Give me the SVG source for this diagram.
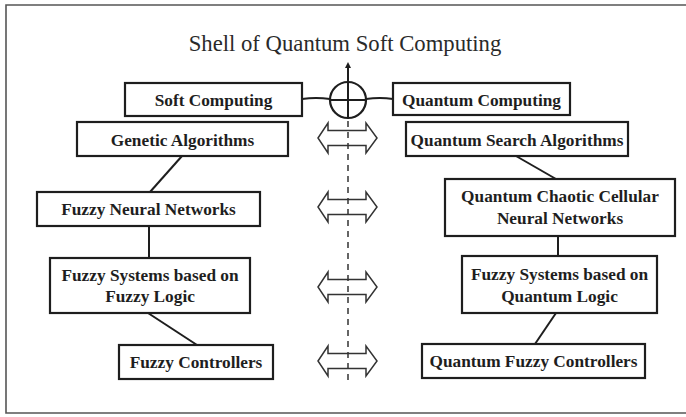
<svg xmlns="http://www.w3.org/2000/svg" width="686" height="417" viewBox="0 0 686 417">
<style>
.box{fill:#fff;stroke:#1e1e1e;stroke-width:2.2}
.lbl{font-family:"Liberation Serif","Times New Roman",serif;font-weight:bold;font-size:17.3px;fill:#1e1e1e;text-anchor:middle}
.ttl{font-family:"Liberation Serif","Times New Roman",serif;font-size:22.7px;fill:#2a2a2a;text-anchor:middle}
.ln{stroke:#1e1e1e;stroke-width:2;fill:none}
.dash{stroke:#333;stroke-width:1.5;stroke-dasharray:6,5;fill:none}
.dbl{fill:none;stroke:#333;stroke-width:1.5;stroke-linejoin:miter}
.frame{stroke:#555;stroke-width:1.6;fill:none}
</style>
<defs>
<marker id="tip" viewBox="0 0 6 6" refX="3" refY="3" markerWidth="3" markerHeight="3" orient="auto">
<path d="M0,0 L6,3 L0,6 Z" fill="#1e1e1e"/>
</marker>
<path id="darrow" d="M-30,0 L-20,-15 L-20,-7.5 L18,-7.5 L18,-15 L29,0 L18,15 L18,7.5 L-20,7.5 L-20,15 Z"/>
</defs>
<rect width="686" height="417" fill="#fff"/>
<path class="frame" d="M686,5 L6,5 L6,413 L686,413"/>
<text class="ttl" x="345" y="51">Shell of Quantum Soft Computing</text>

<g id="connectors">
<path class="ln" d="M302,99 Q316,97 330,99"/>
<path class="ln" d="M366,99 Q380,97 393,99"/>
<line class="ln" x1="348" y1="118" x2="348" y2="65" marker-end="url(#tip)"/>
<line class="dash" x1="348" y1="121" x2="348" y2="380"/>
<line class="ln" x1="182" y1="156" x2="150" y2="192"/>
<line class="ln" x1="149" y1="226" x2="149" y2="258"/>
<line class="ln" x1="148" y1="313" x2="197" y2="345"/>
<line class="ln" x1="516" y1="156" x2="556" y2="179"/>
<line class="ln" x1="558" y1="236" x2="558" y2="256"/>
<line class="ln" x1="556" y1="313" x2="535" y2="344"/>
<use href="#darrow" class="dbl" transform="translate(348,138)"/>
<use href="#darrow" class="dbl" transform="translate(348,207)"/>
<use href="#darrow" class="dbl" transform="translate(348,287)"/>
<use href="#darrow" class="dbl" transform="translate(348,361)"/>
</g>

<g id="oplus">
<circle cx="348" cy="100" r="18" fill="none" stroke="#1e1e1e" stroke-width="2.2"/>
<line class="ln" x1="330" y1="100" x2="366" y2="100"/>
</g>

<g id="soft-computing">
<rect class="box" x="125" y="83" width="177" height="33"/>
<text class="lbl" x="213.5" y="106">Soft Computing</text>
</g>
<g id="quantum-computing">
<rect class="box" x="393" y="83" width="177" height="32"/>
<text class="lbl" x="481.5" y="106">Quantum Computing</text>
</g>
<g id="genetic-algorithms">
<rect class="box" x="77" y="122" width="211" height="34"/>
<text class="lbl" x="182.5" y="146">Genetic Algorithms</text>
</g>
<g id="quantum-search">
<rect class="box" x="406" y="122" width="222" height="34"/>
<text class="lbl" x="517" y="146">Quantum Search Algorithms</text>
</g>
<g id="fuzzy-neural">
<rect class="box" x="37" y="192" width="223" height="34"/>
<text class="lbl" x="148.5" y="215">Fuzzy Neural Networks</text>
</g>
<g id="quantum-chaotic">
<rect class="box" x="445" y="179" width="230" height="57"/>
<text class="lbl" x="560" y="202">Quantum Chaotic Cellular</text>
<text class="lbl" x="560" y="224">Neural Networks</text>
</g>
<g id="fuzzy-systems-fl">
<rect class="box" x="50" y="258" width="200" height="55"/>
<text class="lbl" x="150" y="281">Fuzzy Systems based on</text>
<text class="lbl" x="150" y="302">Fuzzy Logic</text>
</g>
<g id="fuzzy-systems-ql">
<rect class="box" x="462" y="256" width="195" height="57"/>
<text class="lbl" x="559.5" y="280">Fuzzy Systems based on</text>
<text class="lbl" x="559.5" y="302">Quantum Logic</text>
</g>
<g id="fuzzy-controllers">
<rect class="box" x="119" y="345" width="154" height="34"/>
<text class="lbl" x="196" y="368">Fuzzy Controllers</text>
</g>
<g id="quantum-fuzzy-controllers">
<rect class="box" x="422" y="344" width="223" height="34"/>
<text class="lbl" x="533.5" y="367">Quantum Fuzzy Controllers</text>
</g>
</svg>
